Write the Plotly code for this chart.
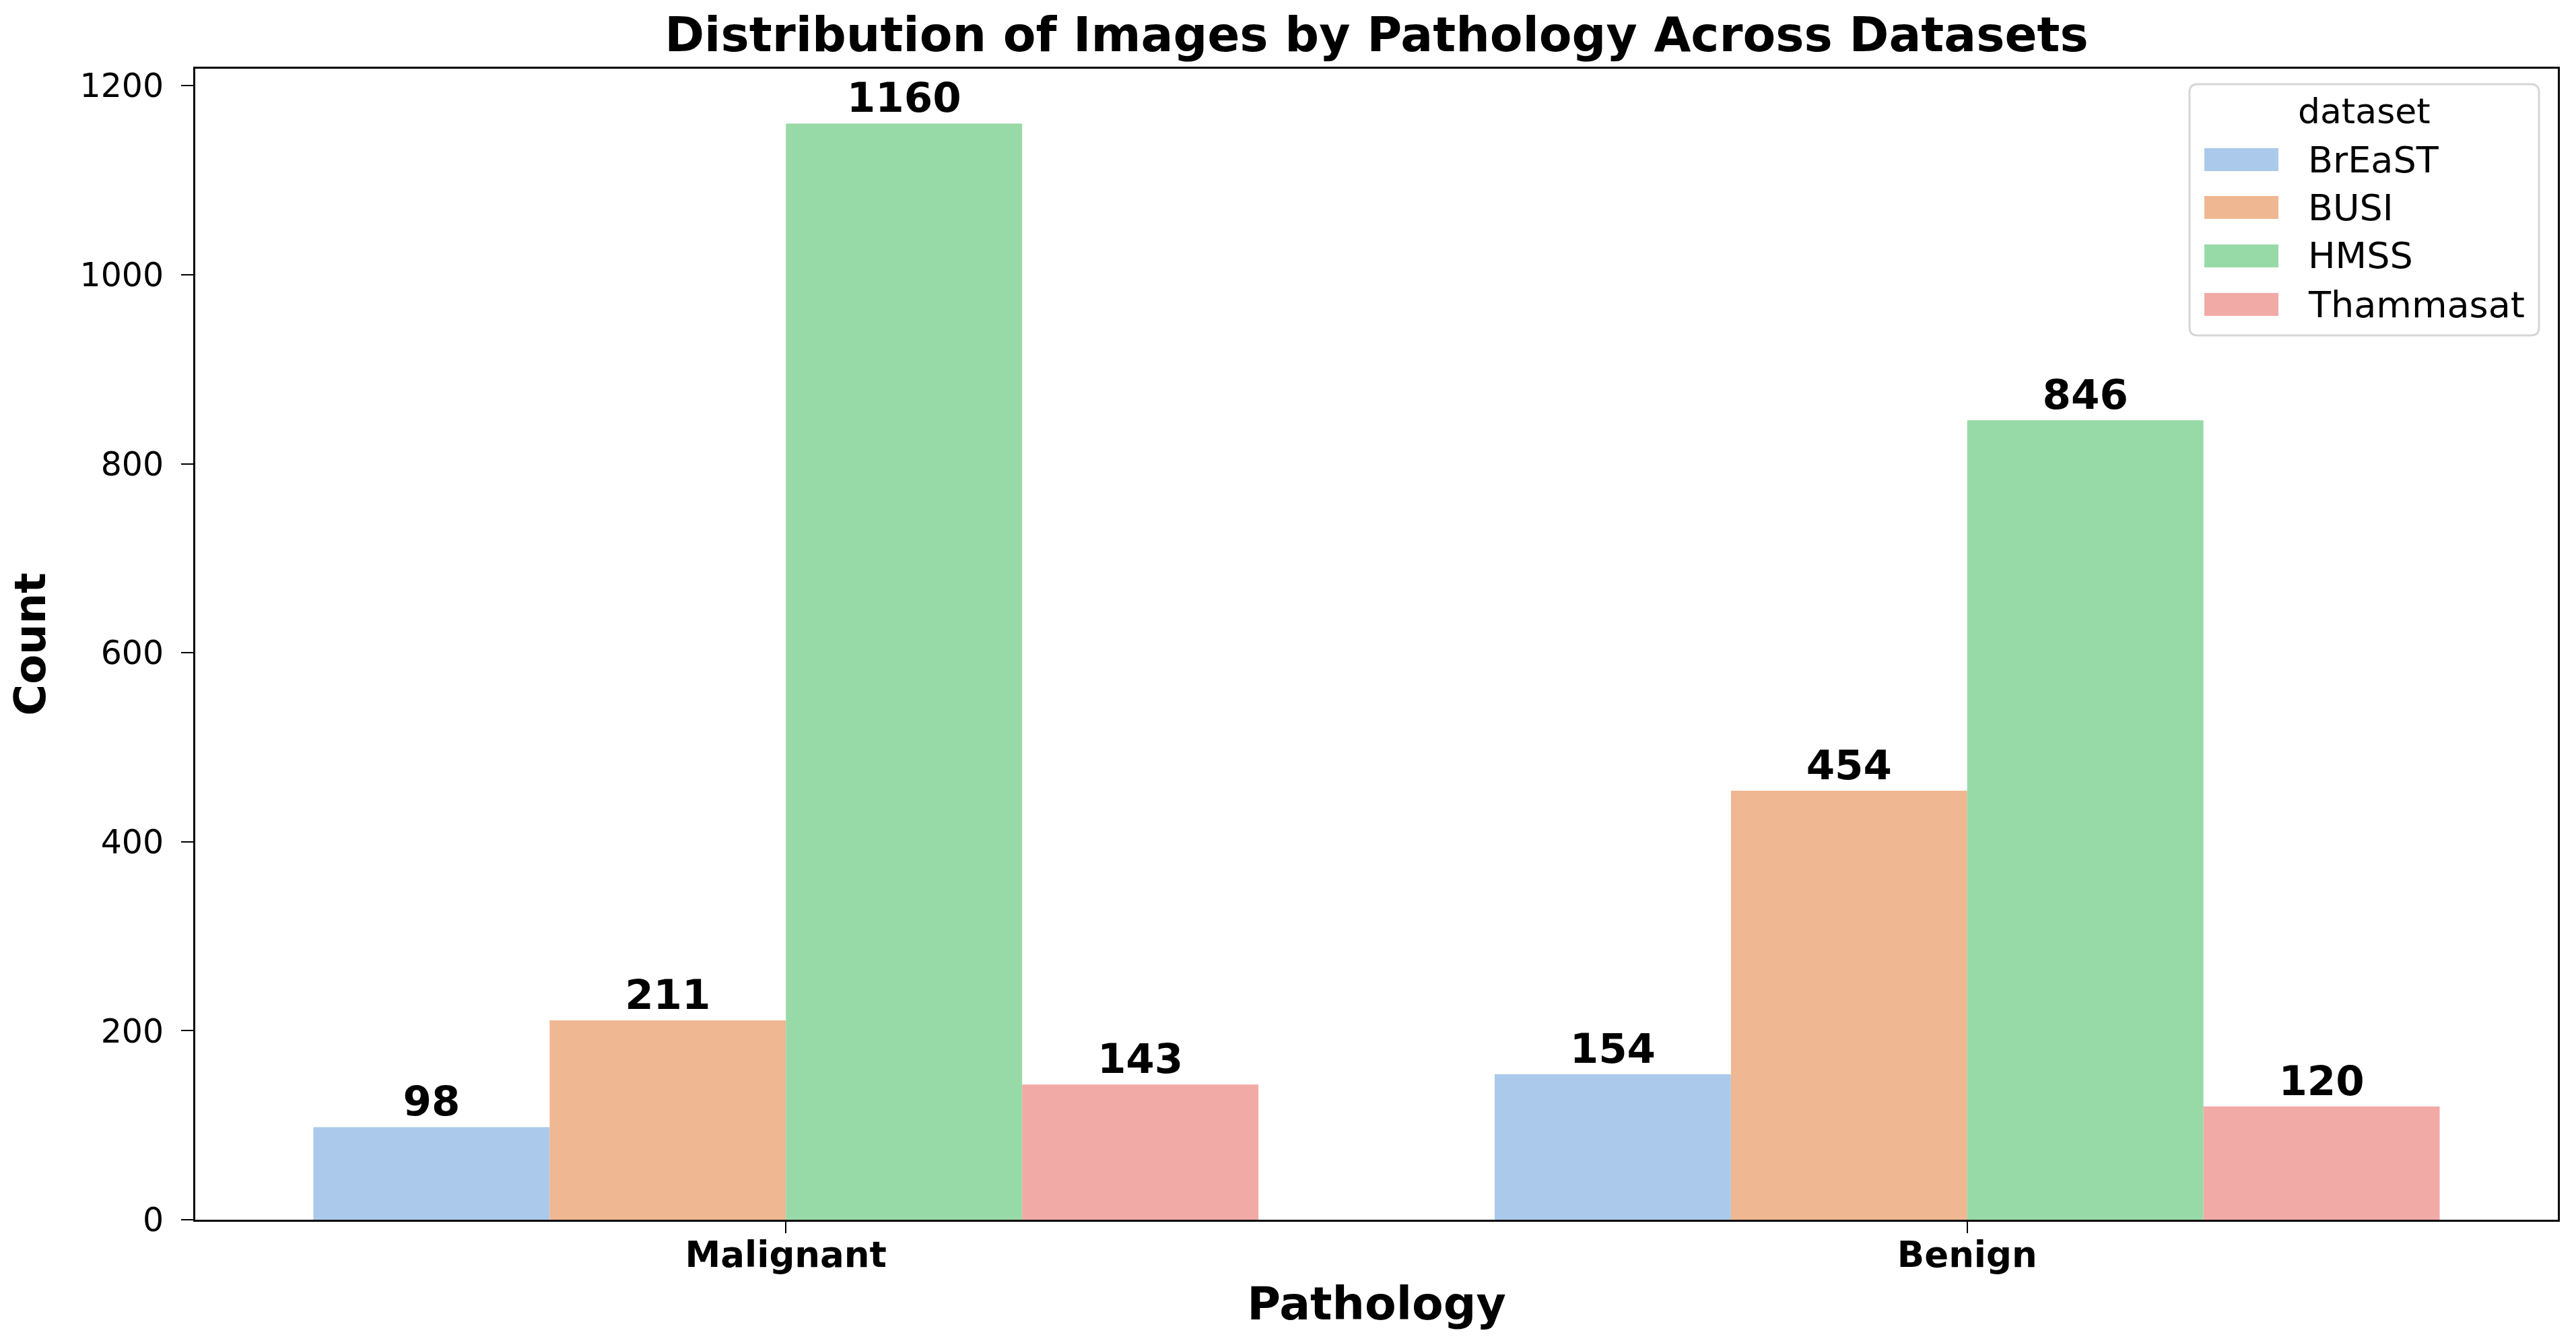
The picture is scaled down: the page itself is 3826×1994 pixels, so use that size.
import plotly.graph_objects as go

# ---- data ----
pathology = ["Malignant", "Benign"]
datasets = ["BrEaST", "BUSI", "HMSS", "Thammasat"]
breast_counts = [98, 154]
busi_counts = [211, 454]
hmss_counts = [1160, 846]
thammasat_counts = [143, 120]
y_ticks = [0, 200, 400, 600, 800, 1000, 1200]

series = [breast_counts, busi_counts, hmss_counts, thammasat_counts]
colors = ["#abc9ea", "#efb792", "#98daa7", "#f2aaa7"]

# ---- geometry (page pixels) ----
PAGE_W, PAGE_H = 3826, 1994
OFF = 8  # default body margin of the html page
FW, FH = PAGE_W - 2 * OFF, PAGE_H - 2 * OFF
PL, PR, PT, PB = 290, 3799, 102, 1811  # plot area on the page
ML, MT = PL - OFF, PT - OFF
MR, MB = FW - (PR - OFF), FH - (PB - OFF)
FONT = "DejaVu Sans"


def pxx(px):
    return (px - PL) / (PR - PL)


def pxy(py):
    return (PB - py) / (PB - PT)


fig = go.Figure()
for name, vals, col in zip(datasets, series, colors):
    fig.add_trace(go.Bar(
        x=pathology, y=vals, name=name,
        marker=dict(color=col, line=dict(width=0)),
        text=[str(v) for v in vals],
        textposition="outside",
        textfont=dict(family=FONT, size=61, color="black", weight="bold"),
        cliponaxis=False,
        showlegend=False,
    ))

fig.update_layout(
    width=FW, height=FH, autosize=False,
    margin=dict(l=ML, r=MR, t=MT, b=MB, pad=0),
    paper_bgcolor="white", plot_bgcolor="white",
    barmode="group", bargap=0.2, bargroupgap=0,
    font=dict(family=FONT, color="black"),
    title=dict(
        text="Distribution of Images by Pathology Across Datasets",
        font=dict(family=FONT, size=71, color="black", weight="bold"),
        x=0.5, xref="paper", xanchor="center",
        y=1 - (51 - OFF) / FH, yref="container", yanchor="middle",
    ),
)

fig.update_xaxes(
    range=[-0.5, 1.5],
    showline=True, linewidth=3, linecolor="black", mirror=True,
    ticks="outside", ticklen=17, tickwidth=2, tickcolor="black",
    ticklabelstandoff=-14,
    tickfont=dict(family=FONT, size=53, color="black", weight="bold"),
    showgrid=False, zeroline=False,
    title=dict(text="Pathology", standoff=20,
               font=dict(family=FONT, size=68, color="black", weight="bold")),
)
fig.update_yaxes(
    range=[0, 1218],
    tickvals=y_ticks, ticktext=[str(v) for v in y_ticks],
    showline=True, linewidth=3, linecolor="black", mirror=True,
    ticks="outside", ticklen=18, tickwidth=2, tickcolor="black",
    ticklabelstandoff=16,
    tickfont=dict(family=FONT, size=49, color="black"),
    showgrid=False, zeroline=False,
    title=dict(text="Count", standoff=36,
               font=dict(family=FONT, size=64, color="black", weight="bold")),
)

# ---- legend (drawn in layout coords) ----
bx0, bx1, by0, by1 = 3252, 3771, 125, 498
r = 12
rx = r / (PR - PL)
ry = r / (PB - PT)
x0, x1, y0, y1 = pxx(bx0), pxx(bx1), pxy(by1), pxy(by0)
path = (f"M{x0 + rx},{y0} L{x1 - rx},{y0} Q{x1},{y0} {x1},{y0 + ry} "
        f"L{x1},{y1 - ry} Q{x1},{y1} {x1 - rx},{y1} "
        f"L{x0 + rx},{y1} Q{x0},{y1} {x0},{y1 - ry} "
        f"L{x0},{y0 + ry} Q{x0},{y0} {x0 + rx},{y0} Z")
fig.add_shape(type="path", path=path, xref="paper", yref="paper",
              line=dict(color="#d6d6d6", width=3), fillcolor="rgba(255,255,255,0.85)",
              layer="above")
fig.add_annotation(text="dataset", x=pxx((bx0 + bx1) / 2), y=pxy(165),
                   xref="paper", yref="paper", xanchor="center", yanchor="middle",
                   showarrow=False, font=dict(family=FONT, size=52, color="black"))
entry_y = [237, 308, 380, 452]
for name, col, ey in zip(datasets, colors, entry_y):
    fig.add_shape(type="rect", xref="paper", yref="paper",
                  x0=pxx(3274), x1=pxx(3384), y0=pxy(ey + 17), y1=pxy(ey - 17),
                  fillcolor=col, line=dict(width=0), layer="above")
    fig.add_annotation(text=name, x=pxx(3426), y=pxy(ey),
                       xref="paper", yref="paper", xanchor="left", yanchor="middle",
                       showarrow=False, font=dict(family=FONT, size=54, color="black"))

fig.write_html("out.html")
